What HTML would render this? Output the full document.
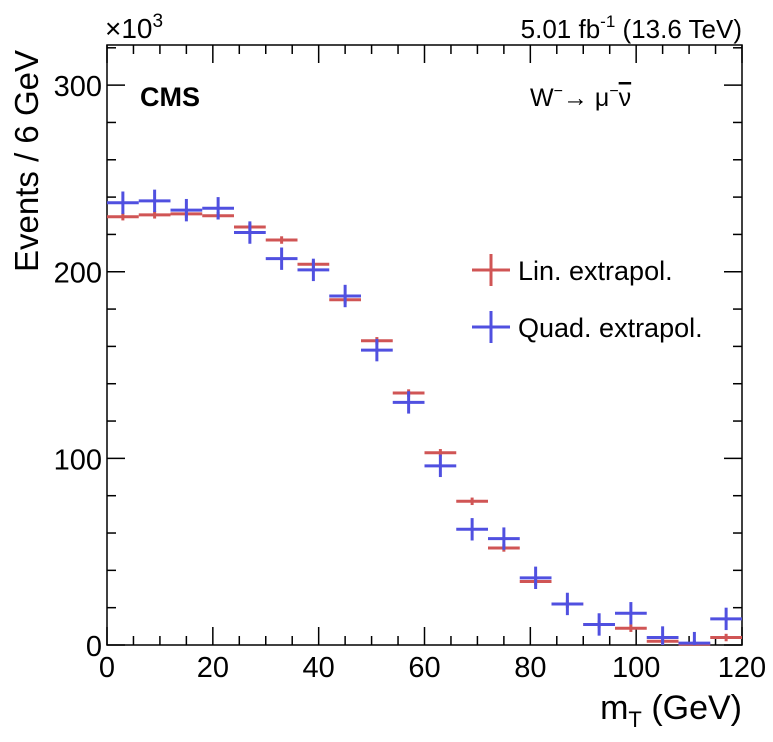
<!DOCTYPE html>
<html><head><meta charset="utf-8"><style>
body{margin:0;background:#fff}
svg{display:block;font-family:"Liberation Sans",sans-serif}
</style></head><body>
<svg id="chart" width="773" height="742" viewBox="0 0 773 742" xmlns="http://www.w3.org/2000/svg">
<g id="axes"></g>
<g id="marks"></g>
<text x="0" y="0" transform="translate(38,50) rotate(-90)" text-anchor="end" font-size="33">Events / 6 GeV</text>
<text x="742" y="719" text-anchor="end" font-size="34">m<tspan font-size="22" dy="8">T</tspan><tspan dy="-8"> (GeV)</tspan></text>
<text x="105" y="38" font-size="28">×10<tspan font-size="19" dy="-11">3</tspan></text>
<text x="742" y="38" text-anchor="end" font-size="26">5.01 fb<tspan font-size="17" dy="-11">-1</tspan><tspan dy="11"> (13.6 TeV)</tspan></text>
<text x="140" y="106" font-size="27" font-weight="bold">CMS</text>
<text x="530" y="106" font-size="25">W<tspan font-size="16" dy="-10">−</tspan><tspan dy="10">→ μ</tspan><tspan font-size="16" dy="-10">−</tspan><tspan dy="10" text-decoration="overline">ν</tspan></text>
<g>
<g>
<line x1="472" x2="510" y1="270" y2="270" stroke="#d05555" stroke-width="3"/><line x1="491" x2="491" y1="254" y2="286" stroke="#d05555" stroke-width="3"/>
<text x="518" y="280" font-size="27">Lin. extrapol.</text></g>
<g>
<line x1="472" x2="510" y1="327" y2="327" stroke="#5050e0" stroke-width="3"/><line x1="491" x2="491" y1="311" y2="343" stroke="#5050e0" stroke-width="3"/>
<text x="518" y="337" font-size="27">Quad. extrapol.</text></g>
</g>
</svg>
<script>
const binEdgesStart = 0, binWidth = 6;
const linValues = [229.5,230.5,231,230,224,217,204,185,163,135,103,77,52,34,22,11,9,2,0.5,4];
const linErrors = [2,2,2,2,2,2,2,2,2,2,2,2,2,2,2,2,2,2,2,2];
const quadValues = [237,238,233,234,221,207,201,187,158,130,96,62,57,36,22,11,17,4,1,14];
const quadErrors = [6,6,6,6,6,6,6,6,6,6,6,6,6,6,6,6,6,6,6,6];
const xTicks = [0,20,40,60,80,100,120];
const yTicks = [0,100,200,300];
const X0=107,X1=742,Y0=645,Y1=45,XMAX=120,YMAX=321.5;
const sx=v=>X0+(v/XMAX)*(X1-X0);
const sy=v=>Y0-(v/YMAX)*(Y0-Y1);
const NS="http://www.w3.org/2000/svg";
function mk(p,t,a){const e=document.createElementNS(NS,t);for(const k in a)e.setAttribute(k,a[k]);p.appendChild(e);return e;}
const axes=document.getElementById('axes'),marks=document.getElementById('marks');
const frame=mk(axes,'rect',{x:X0,y:Y1,width:X1-X0,height:Y0-Y1,fill:'none',stroke:'#000','stroke-width':1.5});


for(let v=0;v<=XMAX;v+=5){const L=v%20===0?18:9;
mk(axes,'line',{x1:sx(v),x2:sx(v),y1:Y0,y2:Y0-L,stroke:'#000','stroke-width':1.5});
mk(axes,'line',{x1:sx(v),x2:sx(v),y1:Y1,y2:Y1+L,stroke:'#000','stroke-width':1.5});}
for(let v=0;v<=YMAX;v+=20){const L=v%100===0?18:9;
mk(axes,'line',{x1:X0,x2:X0+L,y1:sy(v),y2:sy(v),stroke:'#000','stroke-width':1.5});
mk(axes,'line',{x1:X1,x2:X1-L,y1:sy(v),y2:sy(v),stroke:'#000','stroke-width':1.5});}
xTicks.forEach(v=>{const t=mk(axes,'text',{x:sx(v),y:Y0+32,'text-anchor':'middle','font-size':29});t.textContent=v;

});
yTicks.forEach(v=>{const t=mk(axes,'text',{x:X0-5,y:sy(v)+11,'text-anchor':'end','font-size':29});t.textContent=v;

});
function series(vals,errs,col,name){vals.forEach((v,i)=>{const g=mk(marks,'g',{});


const a=binEdgesStart+i*binWidth,c=a+binWidth/2;
mk(g,'line',{x1:sx(a),x2:sx(a+binWidth),y1:sy(v),y2:sy(v),stroke:col,'stroke-width':3});
mk(g,'line',{x1:sx(c),x2:sx(c),y1:sy(Math.min(YMAX,v+errs[i])),y2:sy(Math.max(0,v-errs[i])),stroke:col,'stroke-width':3});});}
series(linValues,linErrors,'#d05555','lin');
series(quadValues,quadErrors,'#5050e0','quad');
</script>
</body></html>
